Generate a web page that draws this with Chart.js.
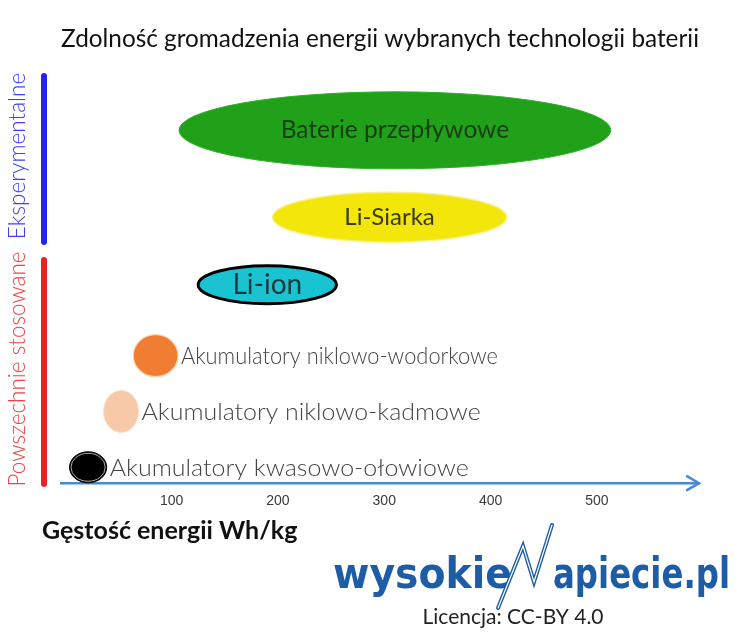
<!DOCTYPE html>
<html lang="pl">
<head>
<meta charset="utf-8">
<title>Zdolność gromadzenia energii wybranych technologii baterii</title>
<script src="https://cdn.jsdelivr.net/npm/chart.js@4.4.1/dist/chart.umd.min.js"></script>
<style>
  html, body { margin: 0; padding: 0; background: #fff; }
  #wrap { width: 742px; height: 636px; }
</style>
</head>
<body>
<div id="wrap"><canvas id="myChart"></canvas></div>
<script>

/* Dane (gęstość energii w Wh/kg) */

var technologie = ['Baterie przepływowe', 'Li-Siarka', 'Li-ion',
                   'Akumulatory niklowo-wodorkowe', 'Akumulatory niklowo-kadmowe', 'Akumulatory kwasowo-ołowiowe'];
var gestosc_min = [107, 195, 125, 64, 36, 4];
var gestosc_max = [513, 415, 255, 106, 69, 39];
var etykiety_osi = [100, 200, 300, 400, 500];
var grupy = ['Eksperymentalne', 'Powszechnie stosowane'];

/* Wygląd: rzędy na ukrytej osi Y, wysokości elips, kolory */

var rzedy = [84.1, 63.4, 47.3, 30.4, 17.1, 3.8];
var wysokosci = [77, 50, 38, 42, 42, 31];
var wypelnienie = ['#21a11a', '#f3e60a', '#1ac3d1', '#f07d32', '#f8c9a8', '#000000'];
var obrys = ['#2fb028', '#f8f08c', '#000000', '#fbd2b0', '#fbe0cc', '#000000'];
var grubosc_obrysu = [1, 1.5, 3, 1.2, 1, 1];
var kolor_tekstu = ['#173e10', '#3a3a14', '#173a40'];
var rozmiar_tekstu = [24.5, 24, 28];
var szerokosc_opisu = [0, 0, 0, 317, 339, 359];

var zbiory = technologie.map(function (nazwa, i) {
    return {
        label: nazwa,
        data: [{ x: [gestosc_min[i], gestosc_max[i]], y: rzedy[i] }],
        backgroundColor: 'rgba(0,0,0,0)',
        borderWidth: 0,
        barThickness: wysokosci[i],
        grouped: false
    };
});

// rysowanie elips w miejscu słupków
var elipsy = {
    id: 'elipsy',
    afterDatasetsDraw: function (chart) {
        var ctx = chart.ctx;
        chart.data.datasets.forEach(function (ds, i) {
            var el = chart.getDatasetMeta(i).data[0];
            var lewo = Math.min(el.x, el.base), prawo = Math.max(el.x, el.base);
            var cx = (lewo + prawo) / 2, cy = el.y;
            var rx = (prawo - lewo) / 2, ry = el.height / 2;
            ctx.save();
            ctx.beginPath();
            ctx.ellipse(cx, cy, rx, ry, 0, 0, Math.PI * 2);
            ctx.fillStyle = wypelnienie[i];
            ctx.fill();
            ctx.lineWidth = grubosc_obrysu[i];
            ctx.strokeStyle = obrys[i];
            ctx.stroke();
            if (i == 5) {
                ctx.beginPath();
                ctx.ellipse(cx, cy, rx - 1.5, ry - 1.5, 0, 0, Math.PI * 2);
                ctx.strokeStyle = '#d8d8d8';
                ctx.lineWidth = 0.8;
                ctx.stroke();
            }
            ctx.textBaseline = 'middle';
            if (i < 3) {
                ctx.font = rozmiar_tekstu[i] + 'px Lato';
                ctx.fillStyle = kolor_tekstu[i];
                ctx.textAlign = 'center';
                ctx.fillText(ds.label, cx, cy);
            } else {
                ctx.font = '300 24px Lato';
                ctx.fillStyle = '#444';
                ctx.textAlign = 'left';
                var w = ctx.measureText(ds.label).width;
                ctx.translate(prawo + 3, cy + 1);
                ctx.scale(szerokosc_opisu[i] / w, 1);
                ctx.fillText(ds.label, 0, 0);
            }
            ctx.restore();
        });
    },
    afterDraw: function (chart) {
        var ctx = chart.ctx;
        var a = chart.chartArea;
        ctx.save();

        // grot strzałki osi X
        ctx.strokeStyle = '#4a89cf';
        ctx.lineWidth = 2.5;
        ctx.lineCap = 'round';
        ctx.beginPath();
        ctx.moveTo(a.right - 12, a.bottom - 7);
        ctx.lineTo(a.right, a.bottom);
        ctx.lineTo(a.right - 12, a.bottom + 7);
        ctx.stroke();

        // paski grup po lewej
        var paski = [[73, 245, '#2424f0', '#3e3ef2'], [257, 487, '#ea2121', '#ef4242']];
        paski.forEach(function (p, g) {
            ctx.strokeStyle = p[2];
            ctx.lineWidth = 6;
            ctx.lineCap = 'round';
            ctx.beginPath();
            ctx.moveTo(44, p[0] + 3);
            ctx.lineTo(44, p[1] - 3);
            ctx.stroke();
            ctx.save();
            ctx.translate(18, (p[0] + p[1]) / 2 - 3);
            ctx.rotate(-Math.PI / 2);
            ctx.font = '300 22.5px Lato';
            ctx.fillStyle = p[3];
            ctx.textAlign = 'center';
            ctx.textBaseline = 'middle';
            ctx.fillText(grupy[g], 0, 0);
            ctx.restore();
        });

        // opis osi
        ctx.font = 'bold 25px Lato';
        ctx.fillStyle = '#111';
        ctx.textAlign = 'left';
        ctx.textBaseline = 'middle';
        ctx.fillText('Gęstość energii Wh/kg', 42, 531);

        // logo
        ctx.fillStyle = '#1d5ca6';
        ctx.textBaseline = 'alphabetic';
        function napis(tekst, x, szer) {
            ctx.font = 'bold 42px "DejaVu Sans"';
            var w = ctx.measureText(tekst).width;
            ctx.save();
            ctx.translate(x, 588);
            ctx.scale(szer / w, 1);
            ctx.fillText(tekst, 0, 0);
            ctx.restore();
        }
        napis('wysokie', 333, 179);
        napis('apiecie.pl', 553, 177);
        ctx.beginPath();
        ctx.moveTo(498, 608);
        ctx.lineTo(523, 546);
        ctx.lineTo(534, 582);
        ctx.lineTo(552, 525);
        ctx.strokeStyle = '#1d5ca6';
        ctx.lineWidth = 4;
        ctx.lineJoin = 'miter';
        ctx.stroke();
        ctx.strokeStyle = '#ffffff';
        ctx.lineWidth = 1.2;
        ctx.stroke();

        ctx.font = '21px Lato';
        ctx.fillStyle = '#222';
        ctx.textAlign = 'center';
        ctx.textBaseline = 'middle';
        ctx.fillText('Licencja: CC-BY 4.0', 513, 617);
        ctx.restore();
    }
};

var ctx = document.getElementById('myChart').getContext('2d');
var myChart = new Chart(ctx, {
    type: 'bar',
    data: { datasets: zbiory },
    options: {
        indexAxis: 'y',
        responsive: true,
        maintainAspectRatio: false,
        animation: false,
        layout: { padding: { left: 61, right: 43, top: 0, bottom: 116 } },
        plugins: {
            legend: { display: false },
            tooltip: { enabled: false },
            title: {
                display: true,
                text: 'Zdolność gromadzenia energii wybranych technologii baterii',
                color: '#111',
                font: { family: 'Lato', size: 25.5, weight: 'normal' },
                padding: { top: 23, bottom: 10 }
            }
        },
        scales: {
            x: {
                type: 'linear',
                min: -4,
                max: 596,
                afterBuildTicks: function (axis) {
                    axis.ticks = etykiety_osi.map(function (v) { return { value: v }; });
                },
                ticks: {
                    color: '#3a3a3a',
                    padding: 10,
                    font: { family: 'Liberation Sans', size: 14 }
                },
                grid: { drawOnChartArea: false, drawTicks: false },
                border: { color: '#4a89cf', width: 2.5 }
            },
            y: {
                type: 'linear',
                display: false,
                min: 0,
                max: 100,
                offset: false
            }
        }
    },
    plugins: [elipsy]
});
</script>
</body>
</html>
